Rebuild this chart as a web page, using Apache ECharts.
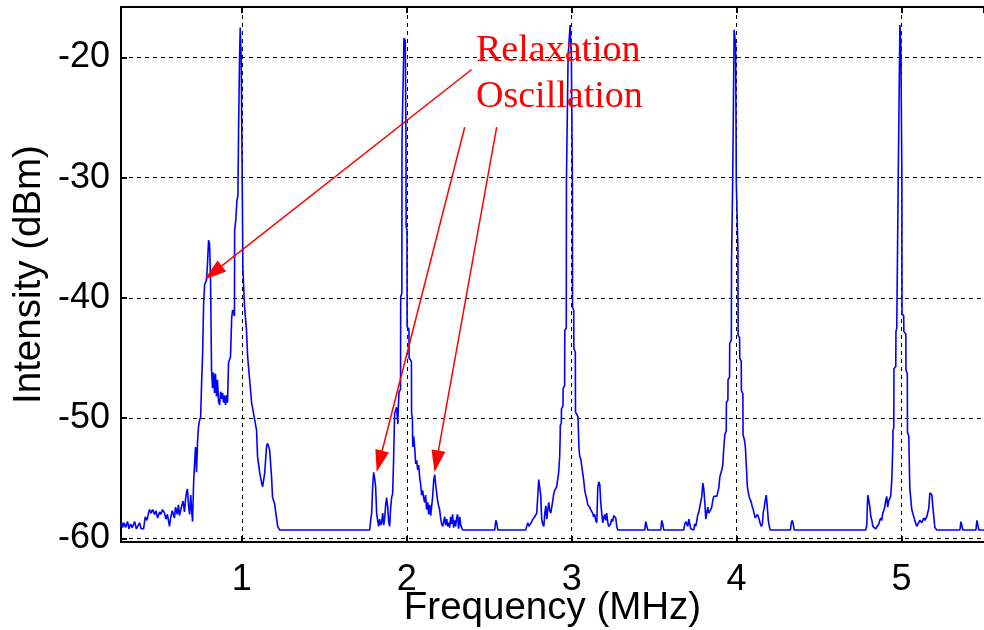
<!DOCTYPE html>
<html>
<head>
<meta charset="utf-8">
<script src="https://cdn.jsdelivr.net/npm/echarts@6/dist/echarts.min.js"></script>
<style>html,body{margin:0;padding:0;background:#fff}#c{width:984px;height:630px}</style>
</head>
<body>
<div id="c"></div>
<script>
// Frequency (MHz), Intensity (dBm) pairs, grouped by harmonic
const band1 = [[0.265,-59.0],[0.270,-58.6],[0.277,-59.1],[0.285,-58.7],[0.295,-59.1],[0.307,-58.6],[0.315,-59.2],[0.325,-58.8],[0.335,-59.1],[0.350,-58.6],[0.360,-59.2],[0.379,-58.7],[0.389,-59.2],[0.404,-59.2],[0.414,-58.2],[0.424,-58.5],[0.434,-57.9],[0.440,-57.6],[0.449,-57.9],[0.459,-57.6],[0.470,-58.0],[0.479,-57.7],[0.489,-58.3],[0.501,-57.8],[0.509,-58.0],[0.519,-57.6],[0.531,-57.9],[0.539,-58.4],[0.548,-58.0],[0.561,-59.0],[0.568,-58.3],[0.578,-57.7],[0.591,-58.3],[0.598,-57.4],[0.608,-58.0],[0.615,-57.2],[0.622,-58.1],[0.633,-57.4],[0.643,-56.9],[0.652,-57.8],[0.658,-56.8],[0.665,-56.1],[0.670,-55.9],[0.676,-57.2],[0.683,-58.0],[0.690,-56.4],[0.696,-57.8],[0.701,-58.6],[0.707,-55.5],[0.713,-53.8],[0.719,-52.4],[0.725,-54.5],[0.731,-52.0],[0.737,-50.7],[0.743,-50.2],[0.750,-49.9],[0.756,-47.0],[0.762,-44.6],[0.768,-40.5],[0.774,-38.9],[0.780,-38.8],[0.786,-38.5],[0.792,-37.0],[0.798,-35.2],[0.804,-35.5],[0.810,-38.5],[0.816,-46.0],[0.822,-47.5],[0.828,-46.2],[0.834,-47.9],[0.840,-46.3],[0.846,-48.2],[0.852,-46.8],[0.858,-48.6],[0.865,-48.9],[0.871,-47.8],[0.877,-48.4],[0.883,-47.9],[0.889,-48.7],[0.895,-48.1],[0.901,-48.9],[0.907,-48.1],[0.913,-48.7],[0.919,-45.4],[0.931,-44.9],[0.938,-41.7],[0.944,-41.0],[0.955,-41.5],[0.956,-34.4],[0.963,-33.5],[0.970,-31.9],[0.976,-31.5],[0.980,-26.0],[0.986,-20.0],[0.990,-17.5],[0.996,-20.0],[1.003,-31.8],[1.006,-37.5],[1.016,-40.7],[1.028,-42.7],[1.035,-44.9],[1.047,-46.8],[1.059,-48.7],[1.077,-50.1],[1.089,-51.0],[1.095,-53.2],[1.108,-54.5],[1.120,-55.4],[1.126,-55.7],[1.138,-54.6],[1.150,-52.3],[1.156,-52.1],[1.168,-52.6],[1.180,-54.9],[1.186,-56.6],[1.198,-57.1],[1.205,-57.0],[1.217,-59.0],[1.229,-59.3]];
const band2 = [[1.775,-59.3],[1.781,-58.5],[1.787,-57.9],[1.793,-55.7],[1.799,-54.5],[1.805,-55.0],[1.811,-55.7],[1.817,-57.9],[1.823,-58.5],[1.829,-59.0],[1.835,-58.4],[1.841,-58.9],[1.847,-58.7],[1.854,-57.9],[1.860,-58.9],[1.866,-58.3],[1.872,-57.2],[1.878,-56.6],[1.884,-57.4],[1.890,-58.6],[1.896,-59.0],[1.902,-57.5],[1.908,-56.6],[1.914,-56.3],[1.920,-53.5],[1.926,-49.6],[1.938,-49.1],[1.946,-50.5],[1.947,-49.6],[1.952,-49.5],[1.953,-47.8],[1.962,-47.6],[1.963,-39.9],[1.970,-39.6],[1.971,-26.9],[1.983,-18.4],[1.991,-18.6],[1.995,-26.9],[1.996,-34.1],[2.001,-34.3],[2.002,-42.4],[2.013,-42.6],[2.014,-45.0],[2.028,-45.3],[2.029,-49.6],[2.034,-50.0],[2.036,-52.4],[2.042,-51.5],[2.048,-52.5],[2.054,-53.8],[2.060,-53.5],[2.066,-54.3],[2.072,-53.9],[2.078,-54.9],[2.084,-55.5],[2.090,-56.4],[2.096,-56.0],[2.102,-56.6],[2.108,-57.0],[2.114,-56.4],[2.120,-57.6],[2.127,-57.0],[2.133,-58.0],[2.139,-57.2],[2.145,-58.1],[2.151,-57.3],[2.157,-56.5],[2.163,-55.2],[2.169,-54.7],[2.175,-55.5],[2.181,-56.2],[2.187,-56.9],[2.193,-57.3],[2.199,-57.6],[2.205,-58.3],[2.211,-58.8],[2.218,-59.0],[2.224,-58.6],[2.230,-58.2],[2.236,-58.9],[2.242,-58.4],[2.248,-59.0],[2.254,-58.7],[2.260,-59.1],[2.266,-58.2],[2.272,-58.8],[2.278,-58.0],[2.284,-59.1],[2.290,-58.5],[2.296,-59.0],[2.302,-58.3],[2.308,-58.0],[2.314,-59.2],[2.321,-58.2],[2.327,-58.9],[2.339,-59.3],[2.533,-59.3],[2.540,-58.5],[2.545,-58.7],[2.552,-59.3]];
const band3 = [[2.721,-59.3],[2.727,-59.0],[2.734,-58.7],[2.740,-59.0],[2.752,-59.1],[2.758,-58.6],[2.764,-58.4],[2.776,-58.2],[2.788,-57.9],[2.794,-56.5],[2.800,-55.1],[2.806,-55.0],[2.812,-56.4],[2.818,-58.4],[2.824,-58.8],[2.831,-59.0],[2.837,-57.9],[2.843,-57.3],[2.849,-58.4],[2.855,-57.6],[2.861,-57.0],[2.867,-57.7],[2.873,-57.9],[2.879,-57.4],[2.885,-56.9],[2.891,-56.3],[2.897,-56.0],[2.903,-55.9],[2.909,-55.7],[2.915,-55.6],[2.921,-54.5],[2.927,-53.2],[2.930,-51.5],[2.931,-50.6],[2.937,-50.4],[2.938,-49.2],[2.947,-49.0],[2.948,-47.5],[2.957,-47.3],[2.958,-42.7],[2.967,-42.5],[2.968,-30.3],[2.978,-20.0],[2.990,-17.3],[2.998,-20.0],[3.004,-30.3],[3.005,-40.8],[3.012,-41.0],[3.013,-44.2],[3.022,-44.5],[3.023,-49.5],[3.038,-49.9],[3.044,-52.5],[3.049,-53.2],[3.055,-53.4],[3.061,-54.0],[3.067,-54.6],[3.073,-55.2],[3.079,-56.0],[3.085,-56.4],[3.091,-56.7],[3.097,-57.2],[3.103,-57.1],[3.109,-57.4],[3.115,-57.6],[3.121,-57.5],[3.127,-57.9],[3.133,-58.2],[3.139,-58.0],[3.145,-58.5],[3.152,-58.7],[3.158,-55.8],[3.164,-55.3],[3.170,-55.5],[3.176,-57.0],[3.182,-57.9],[3.188,-58.7],[3.194,-58.3],[3.200,-58.0],[3.206,-58.5],[3.212,-57.9],[3.218,-58.6],[3.224,-59.0],[3.230,-59.0],[3.236,-58.8],[3.242,-58.4],[3.248,-58.6],[3.255,-58.1],[3.261,-58.0],[3.267,-58.3],[3.273,-59.0],[3.279,-59.3],[3.443,-59.3],[3.449,-58.6],[3.455,-58.5],[3.461,-59.3],[3.540,-59.3],[3.546,-58.5],[3.552,-58.8],[3.558,-59.3]];
const band4 = [[3.679,-59.3],[3.686,-58.8],[3.692,-58.6],[3.698,-58.7],[3.704,-59.0],[3.710,-58.4],[3.716,-58.5],[3.722,-59.2],[3.728,-59.3],[3.740,-59.3],[3.746,-58.8],[3.752,-59.0],[3.759,-58.5],[3.765,-58.0],[3.771,-57.8],[3.777,-57.9],[3.783,-56.9],[3.789,-56.5],[3.795,-55.4],[3.801,-55.9],[3.807,-57.0],[3.813,-58.4],[3.819,-58.5],[3.825,-57.4],[3.831,-57.9],[3.837,-57.9],[3.843,-57.6],[3.849,-57.4],[3.856,-56.8],[3.862,-56.5],[3.868,-56.4],[3.874,-56.4],[3.880,-56.5],[3.886,-56.4],[3.892,-55.8],[3.898,-54.9],[3.904,-54.6],[3.910,-54.3],[3.916,-53.9],[3.922,-52.5],[3.928,-52.4],[3.929,-51.3],[3.937,-51.1],[3.938,-48.7],[3.947,-48.5],[3.948,-46.8],[3.957,-46.6],[3.958,-43.8],[3.968,-43.5],[3.969,-37.1],[3.976,-30.4],[3.985,-17.7],[3.994,-19.0],[3.998,-30.4],[4.008,-36.0],[4.009,-43.1],[4.018,-43.3],[4.019,-45.0],[4.028,-45.3],[4.029,-47.7],[4.038,-48.0],[4.039,-51.4],[4.047,-51.8],[4.053,-52.4],[4.059,-54.0],[4.065,-55.7],[4.071,-56.2],[4.077,-56.6],[4.083,-56.8],[4.089,-57.0],[4.095,-57.4],[4.101,-57.6],[4.107,-58.0],[4.113,-58.3],[4.120,-58.4],[4.126,-58.0],[4.132,-58.2],[4.138,-58.1],[4.144,-58.8],[4.150,-59.0],[4.156,-58.8],[4.162,-57.8],[4.168,-57.4],[4.174,-56.8],[4.180,-56.4],[4.186,-57.4],[4.192,-58.5],[4.198,-59.0],[4.204,-59.3],[4.326,-59.3],[4.332,-58.7],[4.338,-58.5],[4.344,-58.9],[4.350,-59.3]];
const band5 = [[4.783,-59.3],[4.789,-58.9],[4.795,-56.4],[4.801,-56.8],[4.808,-57.4],[4.814,-58.2],[4.820,-58.5],[4.826,-59.0],[4.832,-59.1],[4.844,-59.2],[4.856,-59.1],[4.862,-58.8],[4.868,-58.5],[4.874,-58.3],[4.880,-58.5],[4.886,-57.9],[4.892,-57.7],[4.898,-57.4],[4.904,-56.9],[4.910,-56.5],[4.916,-57.4],[4.922,-56.9],[4.928,-56.9],[4.934,-56.5],[4.941,-55.1],[4.947,-52.4],[4.948,-51.0],[4.953,-50.8],[4.954,-45.9],[4.965,-45.7],[4.966,-42.8],[4.971,-42.5],[4.980,-30.0],[4.990,-17.3],[4.996,-19.0],[5.002,-30.0],[5.003,-41.3],[5.013,-41.5],[5.014,-42.8],[5.026,-43.0],[5.027,-46.0],[5.035,-46.3],[5.036,-51.2],[5.044,-51.5],[5.050,-55.8],[5.062,-57.6],[5.080,-58.5],[5.092,-59.0],[5.099,-58.9],[5.111,-58.5],[5.123,-58.7],[5.135,-58.3],[5.141,-58.5],[5.153,-58.2],[5.165,-57.5],[5.172,-56.2],[5.184,-56.4],[5.190,-57.4],[5.202,-59.1],[5.214,-59.3],[5.354,-59.3],[5.360,-58.6],[5.366,-58.7],[5.372,-59.3],[5.451,-59.3],[5.457,-58.5],[5.463,-58.4],[5.469,-59.3],[5.500,-59.3]];

const xTicks = [1, 2, 3, 4, 5];
const yTicks = [-60, -50, -40, -30, -20];
const xRange = [0.267, 5.5];
const yRange = [-60.3, -15.8];

// annotation: arrow tails and arrow-head centres in data units
const arrowTails = [[2.393, -21.0], [2.351, -25.8], [2.545, -25.8]];
const arrowHeads = [[0.826, -37.9], [1.834, -53.6], [2.180, -53.6]];
const noteLines = ['Relaxation', 'Oscillation'];

const spectrum = band1.concat(band2, band3, band4, band5);

const chart = echarts.init(document.getElementById('c'), null, {renderer: 'canvas'});
const tickFont = {fontFamily: 'Liberation Sans, Arial, sans-serif', fontSize: 36, color: '#000'};
const nameFont = {fontFamily: 'Liberation Sans, Arial, sans-serif', fontSize: 38.5, color: '#000'};
const split = {show: true, lineStyle: {color: '#000', width: 1, type: [4, 4]}};

chart.setOption({
  animation: false,
  backgroundColor: '#fff',
  grid: {left: 121, right: 0, top: 7, bottom: 88, containLabel: false, outerBoundsMode: 'none'},
  xAxis: [{
    type: 'value', min: xRange[0], max: xRange[1], splitNumber: 5,
    axisLine: {show: true, onZero: false, lineStyle: {color: '#000', width: 2}},
    axisTick: {show: true, inside: true, length: 6, lineStyle: {color: '#000', width: 2}},
    axisLabel: {show: true, margin: 20, showMinLabel: false, showMaxLabel: false,
      ...tickFont,
      formatter: v => xTicks.includes(Math.round(v * 1000) / 1000) ? String(v) : ''},
    splitLine: split,
    name: 'Frequency (MHz)', nameLocation: 'middle', nameGap: 47, nameMoveOverlap: false,
    nameTextStyle: {...nameFont}
  }, {
    type: 'value', position: 'top', min: xRange[0], max: xRange[1], splitNumber: 5,
    axisLine: {show: true, onZero: false, lineStyle: {color: '#000', width: 2}},
    axisTick: {show: true, inside: true, length: 6, lineStyle: {color: '#000', width: 2}},
    axisLabel: {show: false}, splitLine: {show: false}
  }],
  yAxis: [{
    type: 'value', min: yRange[0], max: yRange[1], splitNumber: 4,
    axisLine: {show: true, onZero: false, lineStyle: {color: '#000', width: 2}},
    axisTick: {show: true, inside: true, length: 6, lineStyle: {color: '#000', width: 2}},
    axisLabel: {show: true, margin: 11, showMinLabel: false, showMaxLabel: false,
      ...tickFont,
      formatter: v => yTicks.includes(Math.round(v)) && Math.abs(v - Math.round(v)) < 1e-6 ? String(v) : ''},
    splitLine: split,
    name: 'Intensity (dBm)', nameLocation: 'middle', nameRotate: 90, nameGap: 72, nameMoveOverlap: false,
    nameTextStyle: {...nameFont}
  }],
  series: [{
    type: 'line',
    data: spectrum,
    showSymbol: false,
    symbol: 'none',
    lineStyle: {color: '#0000ff', width: 1.6},
    z: 3,
    markLine: {
      silent: true,
      symbol: ['none', 'triangle'],
      symbolSize: [14, 22],
      label: {show: false},
      lineStyle: {color: '#ff0000', width: 1.5, type: 'solid'},
      data: arrowTails.map((t, i) => [{coord: t}, {coord: arrowHeads[i]}])
    }
  }],
  graphic: [{
    type: 'text',
    left: 476, top: 28,
    style: {
      text: noteLines.join('\n'),
      font: '38px "Liberation Serif", "Times New Roman", serif',
      fill: '#ff0000',
      lineHeight: 46
    },
    z: 10
  }]
});
</script>
</body>
</html>
